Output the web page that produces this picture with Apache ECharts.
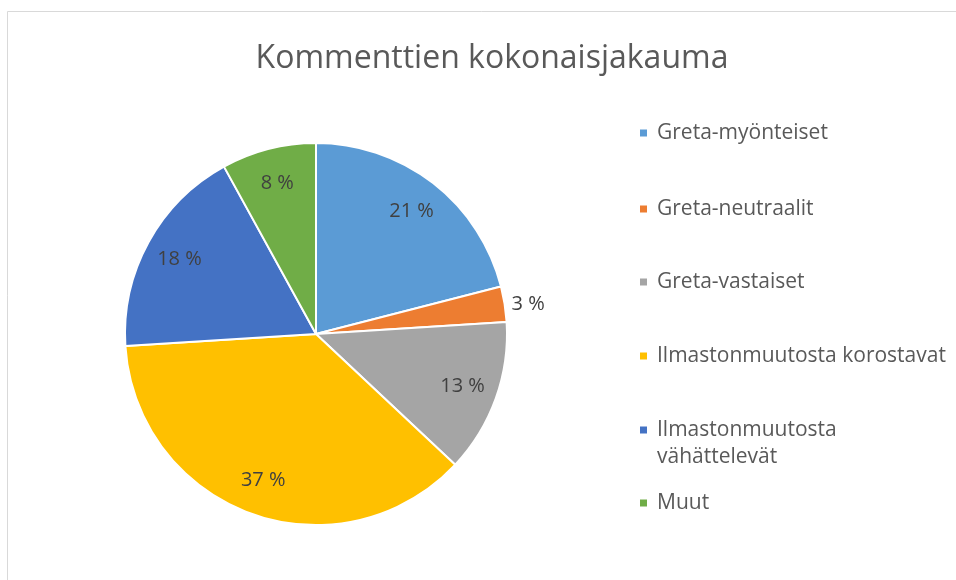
<!DOCTYPE html>
<html>
<head>
<meta charset="utf-8">
<script src="https://cdn.jsdelivr.net/npm/echarts@6.0.0/dist/echarts.min.js"></script>
<style>
  html, body { margin: 0; padding: 0; background: #fff; }
  #chart { width: 956px; height: 580px; }
</style>
</head>
<body>
<div id="chart"></div>
<script>
// 数据
const categories = ['Greta-myönteiset', 'Greta-neutraalit', 'Greta-vastaiset', 'Ilmastonmuutosta korostavat', 'Ilmastonmuutosta vähättelevät', 'Muut'];
const shares = [21, 3, 13, 37, 18, 8];
const colors = ['#5B9BD5', '#ED7D31', '#A5A5A5', '#FFC000', '#4472C4', '#70AD47'];
// 图例项的垂直中心位置
const legendCenters = [133, 209, 282, 356, 430, 503];

const FONT = '"Open Sans", "Noto Sans", sans-serif';
const cx = 316, cy = 334, R = 191;

const chart = echarts.init(document.getElementById('chart'), null, { renderer: 'canvas' });

const pieData = categories.map((name, i) => ({
  name: name,
  value: shares[i],
  itemStyle: { color: colors[i] }
}));

// 标签用透明环形系列绘制，使其位于半径约80%处
const labelData = categories.map((name, i) => {
  const item = { name: name, value: shares[i] };
  if (shares[i] < 5) {
    item.label = { position: 'outside' };
  }
  return item;
});

// 每个图例单独定位
const legends = categories.map((name, i) => {
  const twoLine = name === 'Ilmastonmuutosta vähättelevät';
  const lh = 27;
  // 两行图例：前面加一个空行，让第一行与图标对齐
  const h = twoLine ? lh * 3 : lh;
  return {
    data: [name],
    left: 638,
    top: legendCenters[i] - h / 2,
    padding: 0,
    icon: 'rect',
    itemWidth: 9,
    itemHeight: 9,
    selectedMode: false,
    formatter: twoLine ? ' \nIlmastonmuutosta\nvähättelevät' : '{name}',
    textStyle: {
      fontFamily: FONT,
      fontSize: 21,
      color: '#595959',
      lineHeight: lh,
      padding: [0, 0, 0, 4]
    }
  };
});

const option = {
  backgroundColor: '#fff',
  animation: false,
  title: {
    text: 'Kommenttien kokonaisjakauma',
    left: 487,
    top: 38,
    textAlign: 'center',
    textStyle: {
      fontFamily: FONT,
      fontSize: 32,
      fontWeight: 'normal',
      color: '#595959'
    }
  },
  legend: legends,
  graphic: [
    // 图表边框
    { type: 'line', shape: { x1: 7.5, y1: 11.5, x2: 956, y2: 11.5 }, style: { stroke: '#D9D9D9', lineWidth: 1 } },
    { type: 'line', shape: { x1: 7.5, y1: 11.5, x2: 7.5, y2: 580 }, style: { stroke: '#D9D9D9', lineWidth: 1 } }
  ],
  series: [
    {
      name: 'jakauma',
      type: 'pie',
      center: [cx, cy],
      radius: R,
      startAngle: 90,
      clockwise: true,
      data: pieData,
      itemStyle: { borderColor: '#fff', borderWidth: 2 },
      label: { show: false },
      labelLine: { show: false },
      emphasis: { disabled: true }
    },
    {
      name: 'labels',
      type: 'pie',
      center: [cx, cy],
      radius: [R * 0.6, R],
      startAngle: 90,
      clockwise: true,
      silent: true,
      data: labelData,
      itemStyle: { color: 'transparent' },
      label: {
        show: true,
        position: 'inside',
        formatter: '{c} %',
        fontFamily: FONT,
        fontSize: 20,
        color: '#404040'
      },
      labelLine: { show: false, length: 2, length2: 0 },
      emphasis: { disabled: true }
    }
  ]
};

chart.setOption(option);
</script>
</body>
</html>
